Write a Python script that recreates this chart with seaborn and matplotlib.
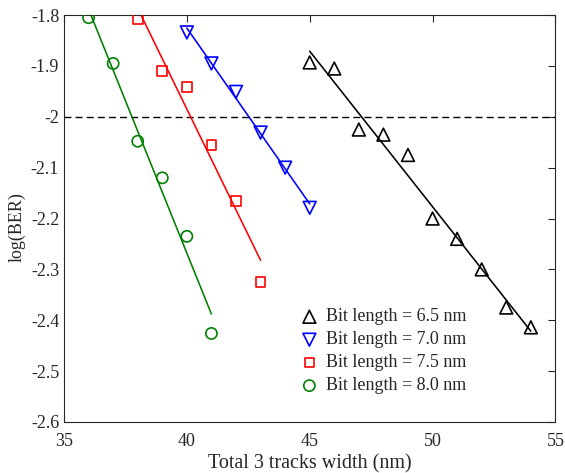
import matplotlib
matplotlib.use("Agg")
import matplotlib.pyplot as plt
import seaborn as sns
import numpy as np
import pandas as pd
from matplotlib.ticker import FuncFormatter

# Data
x_65 = [45, 46, 47, 48, 49, 50, 51, 52, 53, 54]
y_65 = [-1.893, -1.905, -2.025, -2.035, -2.075, -2.200, -2.240, -2.300, -2.375, -2.414]
x_70 = [40, 41, 42, 43, 44, 45]
y_70 = [-1.834, -1.895, -1.951, -2.031, -2.100, -2.179]
x_75 = [38, 39, 40, 41, 42, 43]
y_75 = [-1.808, -1.910, -1.941, -2.056, -2.166, -2.325]
x_80 = [36, 37, 38, 39, 40, 41]
y_80 = [-1.805, -1.895, -2.048, -2.120, -2.235, -2.426]
labels = ["Bit length = 6.5 nm", "Bit length = 7.0 nm",
          "Bit length = 7.5 nm", "Bit length = 8.0 nm"]
threshold = -2.0
x_ticks = [35, 40, 45, 50, 55]
y_ticks = [-2.6, -2.5, -2.4, -2.3, -2.2, -2.1, -2.0, -1.9, -1.8]

sns.set_style("white")
plt.rcParams["font.family"] = ["Liberation Serif", "DejaVu Serif"]
plt.rcParams["axes.unicode_minus"] = False

fig = plt.figure(figsize=(5.65, 4.73), dpi=100)
ax = fig.add_axes([0.1133, 0.108, 0.8697, 0.860])

series = [
    (x_65, y_65, "#000000", "^", 85),
    (x_70, y_70, "#0000ff", "v", 85),
    (x_75, y_75, "#ff0000", "s", 48),
    (x_80, y_80, "#008000", "o", 65),
]

for (xs, ys, col, mk, s), lab in zip(series, labels):
    df = pd.DataFrame({"x": xs, "y": ys})
    sns.regplot(data=df, x="x", y="y", ax=ax, ci=None, truncate=True,
                color=col, marker=mk, label=lab,
                scatter_kws=dict(s=s, facecolors="none", edgecolors=col,
                                 linewidths=1.2, alpha=1, zorder=3),
                line_kws=dict(lw=1.15, zorder=2))

ax.axhline(threshold, color="black", ls=(0, (5, 3)), lw=1.0, zorder=1)

ax.set_xlim(35, 55)
ax.set_ylim(-2.6, -1.8)
ax.set_xticks(x_ticks)
ax.set_yticks(y_ticks)
ax.yaxis.set_major_formatter(FuncFormatter(lambda v, p: "%g" % round(v, 2)))
ax.tick_params(direction="in", length=5, width=0.8, colors="#262626",
               labelsize=13, top=True, right=True, labelcolor="#262626")
ax.tick_params(axis="x", pad=8)
for sp in ax.spines.values():
    sp.set_visible(True)
    sp.set_color("#262626")
    sp.set_linewidth(0.8)

ax.set_xlabel("Total 3 tracks width (nm)", fontsize=14.5, color="#262626", labelpad=3)
ax.set_ylabel("log(BER)", fontsize=13, color="#262626")
ax.yaxis.set_label_coords(-0.078, 0.48)

ax.legend(loc="lower right", bbox_to_anchor=(0.833, 0.05), frameon=False,
          fontsize=13, handletextpad=0.3, labelspacing=0.33,
          handlelength=1.2, borderaxespad=0)

fig.savefig("out.png", dpi=100)
